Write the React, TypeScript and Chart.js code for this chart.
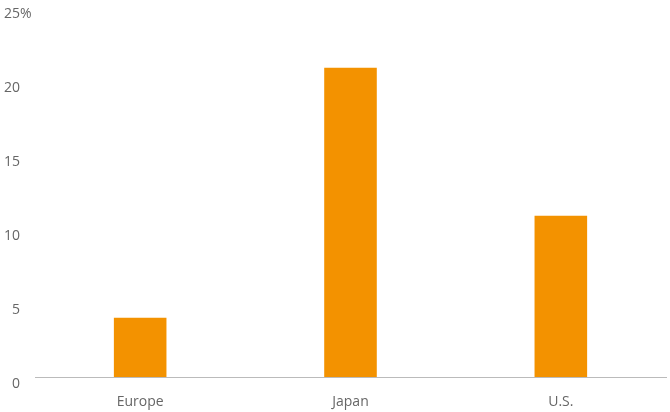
import React, { useEffect, useRef } from "react";
import { Chart, registerables } from "chart.js";

Chart.register(...registerables);

const categories = ["Europe", "Japan", "U.S."];
const values = [4.0, 20.9, 10.9];
const yTicks = [0, 5, 10, 15, 20, 25];

const FONT = "'Open Sans', 'DejaVu Sans', sans-serif";

const percentPlugin = {
  id: "percentSuffix",
  afterDraw(chart: any) {
    const y = chart.scales.y;
    const ctx = chart.ctx;
    const top = yTicks[yTicks.length - 1];
    ctx.save();
    ctx.font = `14px ${FONT}`;
    ctx.fillStyle = "#666666";
    ctx.textAlign = "left";
    ctx.textBaseline = "middle";
    ctx.fillText("%", 20, y.getPixelForValue(top) + 7);
    ctx.restore();
  },
};

export default function App() {
  const ref = useRef<HTMLCanvasElement | null>(null);
  useEffect(() => {
    if (!ref.current) return;
    const chart = new Chart(ref.current, {
      type: "bar",
      data: {
        labels: categories,
        datasets: [
          {
            data: values,
            backgroundColor: "#F39200",
            borderWidth: 0,
            barPercentage: 0.25,
            categoryPercentage: 1,
          },
        ],
      },
      options: {
        animation: false,
        responsive: false,
        maintainAspectRatio: false,
        layout: { padding: { top: 7, right: 4, bottom: 2, left: 0 } },
        plugins: { legend: { display: false }, tooltip: { enabled: false } },
        scales: {
          x: {
            afterFit(scale: any) {
              scale.height = 33;
              scale.paddingLeft = 0;
              scale.paddingRight = 0;
            },
            grid: { display: false, drawTicks: false },
            border: { display: true, color: "#bbbbbb", width: 1 },
            ticks: {
              color: "#666666",
              font: { family: FONT, size: 14 },
              padding: 17,
              maxRotation: 0,
            },
          },
          y: {
            min: 0,
            max: 25,
            afterBuildTicks(scale: any) {
              scale.ticks = yTicks.map((v) => ({ value: v }));
            },
            afterFit(scale: any) {
              scale.width = 35;
              scale.paddingTop = 0;
              scale.paddingBottom = 0;
            },
            grid: { display: false, drawTicks: false },
            border: { display: false },
            ticks: {
              color: "#666666",
              font: { family: FONT, size: 14 },
              padding: 15,
              labelOffset: 7,
              callback: (v: any) => String(v),
            },
          },
        },
      },
      plugins: [percentPlugin],
    });
    return () => chart.destroy();
  }, []);
  return (
    <div style={{ position: "fixed", left: 0, top: 0, width: 670, height: 412 }}>
      <canvas ref={ref} width={670} height={412} style={{ width: 670, height: 412 }} />
    </div>
  );
}
